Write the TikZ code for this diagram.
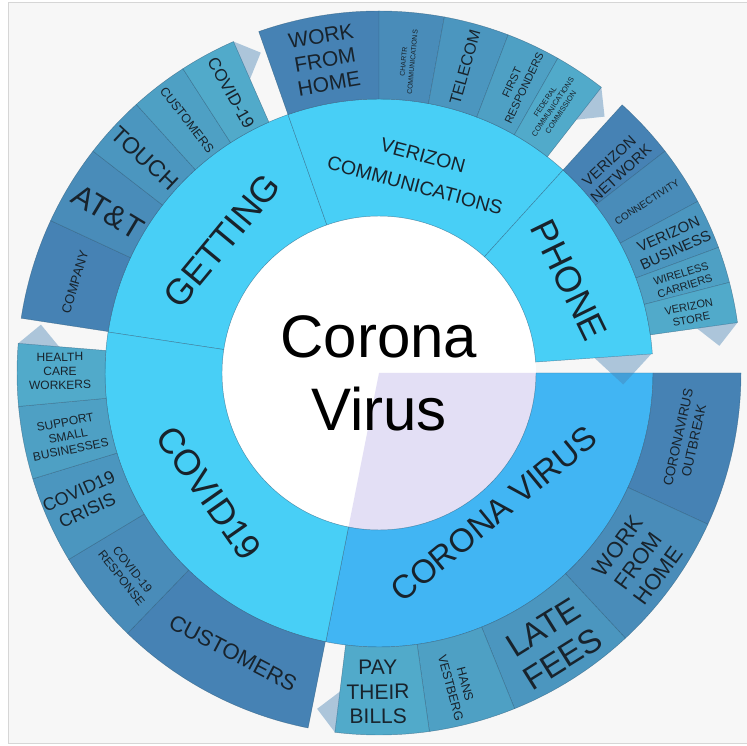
\documentclass[tikz,border=0pt]{standalone}
\usepackage{fontspec}
\setmainfont{Liberation Sans}
\definecolor{bgc}{HTML}{F7F7F7}
\definecolor{framec}{HTML}{D6D6D6}
\definecolor{midc}{HTML}{48CFF6}
\definecolor{corc}{HTML}{41B5F3}
\definecolor{lav}{HTML}{E3DFF5}
\definecolor{oa}{HTML}{4682B4}
\definecolor{ob}{HTML}{498CB9}
\definecolor{oc}{HTML}{4B96BF}
\definecolor{od}{HTML}{4EA0C4}
\definecolor{oe}{HTML}{51AACA}
\definecolor{segline}{HTML}{2E5C7A}
\definecolor{txtc}{HTML}{18232C}
\definecolor{steelb}{HTML}{4682B4}
\newcommand\ringseg[5]{\filldraw[seg,fill=#5] (#1:#3pt) arc[start angle=#1,end angle=#2,radius=#3pt] -- (#2:#4pt) arc[start angle=#2,end angle=#1,radius=#4pt] -- cycle;}
\newcommand\fsz[1]{\fontsize{#1}{#1}\selectfont}
\begin{document}
\begin{tikzpicture}[x=1pt,y=1pt,
  seg/.style={draw=segline, draw opacity=0.6, line width=0.45pt},
  lbl/.style={text=txtc, inner sep=0pt, align=center},
  tri/.style={fill=steelb, fill opacity=0.42}]
\useasboundingbox (0,0) rectangle (747,745);
\fill[white] (0,0) rectangle (747,745);
\filldraw[fill=bgc, draw=framec, line width=1pt] (8.3,1.3) rectangle (752,742.5);
\begin{scope}[shift={(379,372)}]
  \fill[white] (0,0) circle[radius=157pt];
  \fill[lav] (0,0) -- (258.8:157pt) arc[start angle=258.8,end angle=360,radius=157pt] -- cycle;
  % middle ring
  \ringseg{109.4}{171.4}{157}{274}{midc}
  \ringseg{47.8}{109.4}{157}{274}{midc}
  \ringseg{4}{47.8}{157}{274}{midc}
  \ringseg{-101.2}{0}{157}{274}{corc}
  \ringseg{171.4}{258.8}{157}{274}{midc}
  % outer ring: GETTING
  \ringseg{155.1}{171.3}{274}{362}{oa}
  \ringseg{142.2}{155.1}{274}{362}{ob}
  \ringseg{132.1}{142.2}{274}{362}{oc}
  \ringseg{122.8}{132.1}{274}{362}{od}
  \ringseg{113.7}{122.8}{274}{362}{oe}
  % VERIZON
  \ringseg{90}{109.4}{274}{362}{oa}
  \ringseg{79.6}{90}{274}{362}{ob}
  \ringseg{69.1}{79.6}{274}{362}{oc}
  \ringseg{60.4}{69.1}{274}{362}{od}
  \ringseg{52.1}{60.4}{274}{362}{oe}
  % PHONE
  \ringseg{37.8}{47.8}{274}{362}{oa}
  \ringseg{28.3}{37.8}{274}{362}{ob}
  \ringseg{20.3}{28.3}{274}{362}{oc}
  \ringseg{14.5}{20.3}{274}{362}{od}
  \ringseg{8}{14.5}{274}{362}{oe}
  % CORONA VIRUS
  \ringseg{335.3}{360}{274}{362}{oa}
  \ringseg{312.9}{335.3}{274}{362}{ob}
  \ringseg{292}{312.9}{274}{362}{oc}
  \ringseg{278}{292}{274}{362}{od}
  \ringseg{263}{278}{274}{362}{oe}
  % COVID19
  \ringseg{226}{258.7}{274}{362}{oa}
  \ringseg{211}{226}{274}{362}{ob}
  \ringseg{197}{211}{274}{362}{oc}
  \ringseg{185.3}{197}{274}{362}{od}
  \ringseg{175.3}{185.3}{274}{362}{oe}
  % pointer triangles
  \fill[tri] (113.7:321pt) -- (113.7:362pt) -- (110.26:341.5pt) -- cycle;
  \fill[tri] (52.1:321pt) -- (52.1:362pt) -- (48.66:341.5pt) -- cycle;
  \fill[tri] (8:321pt) -- (8:362pt) -- (4.56:341.5pt) -- cycle;
  \fill[tri] (175.3:321pt) -- (175.3:362pt) -- (171.86:341.5pt) -- cycle;
  \fill[tri] (263:321pt) -- (263:362pt) -- (259.56:341.5pt) -- cycle;
  \fill[tri] (4:216pt) -- (4:273pt) -- (-2.7:244.5pt) -- cycle;
\end{scope}
% centre
\node[lbl, font=\fontsize{60}{73}\selectfont, text=black] (centre) at (379,372) {Corona\\Virus};
% middle labels
\node[lbl, rotate=50.4, font=\fsz{36}] (getting) at (222,504) {GETTING};
\node[lbl, rotate=-15, font=\fontsize{19.5}{31}\selectfont] (verizon) at (419,574.5) {VERIZON\\COMMUNICATIONS};
\node[lbl, rotate=-64, font=\fsz{36}] (phone) at (569,465) {PHONE};
\node[lbl, rotate=39.4, font=\fsz{33}] (corona) at (494,231) {CORONA VIRUS};
\node[lbl, rotate=-55, font=\fsz{36}] (covid) at (209,252) {COVID19};
% GETTING children
\node[lbl, rotate=73, font=\fsz{13}] (gcompany) at (75,463) {COMPANY};
\node[lbl, rotate=-31, font=\fsz{31}] (gatt) at (108,533) {AT\&T};
\node[lbl, rotate=-43, font=\fsz{23}] (gtouch) at (145,587) {TOUCH};
\node[lbl, rotate=-52.5, font=\fsz{12.5}] (gcust) at (187,625) {CUSTOMERS};
\node[lbl, rotate=-61, font=\fsz{17}] (gcovid) at (231,652) {COVID-19};
% VERIZON children
\node[lbl, rotate=9.7, font=\fontsize{21}{24}\selectfont] (vwork) at (325,685) {WORK\\FROM\\HOME};
\node[lbl, rotate=84.8, font=\fontsize{7}{9}\selectfont] (vchartr) at (408,683) {CHARTR\\COMMUNICATIONS};
\node[lbl, rotate=74.4, font=\fsz{16}] (vtelecom) at (465,678) {TELECOM};
\node[lbl, rotate=64.7, font=\fontsize{11}{13.5}\selectfont] (vfirst) at (518,660) {FIRST\\RESPONDERS};
\node[lbl, rotate=56, font=\fontsize{7.5}{9.5}\selectfont] (vfed) at (553,638) {FEDERAL\\COMMUNICATIONS\\COMMISSION};
% PHONE children
\node[lbl, rotate=42.8, font=\fontsize{15}{17.5}\selectfont] (pnet) at (615,578) {VERIZON\\NETWORK};
\node[lbl, rotate=33, font=\fsz{10}] (pconn) at (647,543) {CONNECTIVITY};
\node[lbl, rotate=24.2, font=\fontsize{15}{17.5}\selectfont] (pbus) at (672,503) {VERIZON\\BUSINESS};
\node[lbl, rotate=17.4, font=\fontsize{11}{13}\selectfont] (pwire) at (683,465) {WIRELESS\\CARRIERS};
\node[lbl, rotate=11.2, font=\fontsize{11}{13}\selectfont] (pstore) at (690,432) {VERIZON\\STORE};
% CORONA VIRUS children
\node[lbl, rotate=77.6, font=\fontsize{13.5}{16}\selectfont] (coutb) at (686,306) {CORONAVIRUS\\OUTBREAK};
\node[lbl, rotate=54, font=\fontsize{22}{25}\selectfont] (cwork) at (638,184) {WORK\\FROM\\HOME};
\node[lbl, rotate=32, font=\fontsize{33}{37}\selectfont] (clate) at (553,102) {LATE\\FEES};
\node[lbl, rotate=-75, font=\fontsize{12.5}{15}\selectfont] (chans) at (458,59) {HANS\\VESTBERG};
\node[lbl, rotate=0.5, font=\fontsize{21}{24.5}\selectfont] (cpay) at (378,53) {PAY\\THEIR\\BILLS};
% COVID19 children
\node[lbl, rotate=-27.6, font=\fsz{22}] (kcust) at (233,92) {CUSTOMERS};
\node[lbl, rotate=-51.5, font=\fontsize{12}{14}\selectfont] (kresp) at (127,171) {COVID-19\\RESPONSE};
\node[lbl, rotate=24, font=\fontsize{18}{21}\selectfont] (kcrisis) at (83,244) {COVID19\\CRISIS};
\node[lbl, rotate=11.2, font=\fontsize{12}{14}\selectfont] (ksupp) at (68,309) {SUPPORT\\SMALL\\BUSINESSES};
\node[lbl, rotate=0.3, font=\fontsize{12}{14}\selectfont] (khealth) at (60,374) {HEALTH\\CARE\\WORKERS};
\end{tikzpicture}
\end{document}
